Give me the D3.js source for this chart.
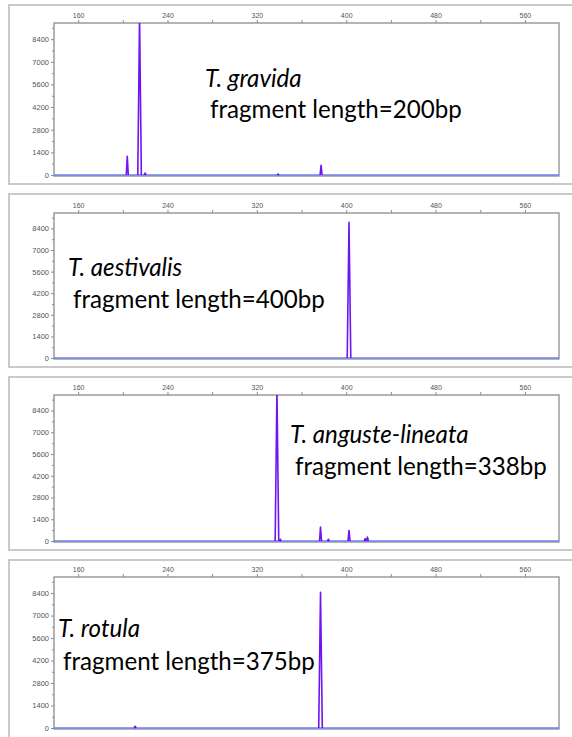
<!DOCTYPE html>
<html>
<head>
<meta charset="utf-8">
<script src="https://cdn.jsdelivr.net/npm/d3@7"></script>
<style>
  body { margin: 0; background: #fff; }
  svg { display: block; }
  .tick text { font-family: 'Liberation Sans', Arial, sans-serif; fill: #555; }
  .label { font-family: Lato, 'Noto Sans', sans-serif; fill: #000; }
</style>
</head>
<body>
<div id="chart"></div>
<script>
'use strict';

// size axis (bp) and signal axis (rfu), same for every panel
const xTicks = [160, 240, 320, 400, 480, 560];
const xMinorTicks = [200, 280, 360, 440, 520];
const yTicks = [0, 1400, 2800, 4200, 5600, 7000, 8400];
const yMinorTicks = [700, 2100, 3500, 4900, 6300, 7700, 9100];
const xDomain = [138.4, 590.5];
const yMax = 9400;

// species names and fragment length captions
const species = ['T. gravida', 'T. aestivalis', 'T. anguste-lineata', 'T. rotula'];
const fragments = ['fragment length=200bp', 'fragment length=400bp',
  'fragment length=338bp', 'fragment length=375bp'];

// peaks: [size, height]
const gravidaPeaks = [[204, 1150], [215, 9800], [220, 120], [339, 60], [377.5, 600]];
const aestivalisPeaks = [[402.5, 8800]];
const angustePeaks = [[338, 9800], [341, 110], [377, 900], [384, 110], [402.5, 680], [417, 150], [419, 250]];
const rotulaPeaks = [[211, 110], [377, 8450]];
const peakSets = [gravidaPeaks, aestivalisPeaks, angustePeaks, rotulaPeaks];

// panel layout in pixels
const panels = [
  { frameTop: 5, frameBottom: 184, top: 23, bottom: 175, nameX: 205, nameY: 87, fragX: 210, fragY: 118 },
  { frameTop: 194, frameBottom: 367, top: 213, bottom: 358, nameX: 68, nameY: 276, fragX: 73, fragY: 308 },
  { frameTop: 377, frameBottom: 550, top: 395, bottom: 541, nameX: 290, nameY: 443, fragX: 295, fragY: 475 },
  { frameTop: 560, frameBottom: 745, top: 577, bottom: 728, nameX: 58, nameY: 637, fragX: 63, fragY: 670 }
];
const plotLeft = 54;
const plotRight = 559;
const fragWidth = 252;

const svg = d3.select('#chart').append('svg')
  .attr('width', 572)
  .attr('height', 737);

const x = d3.scaleLinear().domain(xDomain).range([plotLeft, plotRight]);

function peakPoints(peak) {
  const hw = peak[1] > 5000 ? 1.6 : 0.9;
  return [[peak[0] - hw, 0], [peak[0], peak[1]], [peak[0] + hw, 0]];
}

function drawPanel(p, i) {
  const g = svg.append('g');
  const y = d3.scaleLinear().domain([0, yMax]).range([p.bottom, p.top]);

  // outer frame
  g.append('rect')
    .attr('x', 9).attr('y', p.frameTop)
    .attr('width', 580).attr('height', p.frameBottom - p.frameTop)
    .attr('fill', 'none')
    .attr('stroke', '#c9c9c9')
    .attr('stroke-width', 2);

  // plot box
  g.append('rect')
    .attr('x', plotLeft).attr('y', p.top)
    .attr('width', plotRight - plotLeft).attr('height', p.bottom - p.top + 1)
    .attr('fill', '#fff')
    .attr('stroke', '#8c8c8c')
    .attr('stroke-width', 1.3);

  const xAxis = g.append('g')
    .attr('transform', `translate(0,${p.top})`)
    .call(d3.axisTop(x).tickValues(xTicks).tickSize(3).tickPadding(2));
  g.append('g')
    .attr('transform', `translate(0,${p.top})`)
    .call(d3.axisTop(x).tickValues(xMinorTicks).tickSize(3).tickFormat(''));
  const yAxis = g.append('g')
    .attr('transform', `translate(${plotLeft},0)`)
    .call(d3.axisLeft(y).tickValues(yTicks).tickSize(3).tickPadding(2).tickFormat(d3.format('d')));
  g.append('g')
    .attr('transform', `translate(${plotLeft},0)`)
    .call(d3.axisLeft(y).tickValues(yMinorTicks).tickSize(2).tickFormat(''));

  g.selectAll('.domain').remove();
  g.selectAll('.tick line').attr('stroke', '#8c8c8c');
  xAxis.selectAll('text').attr('font-size', 7);
  yAxis.selectAll('text').attr('font-size', 7.5);

  const clipId = `clip-${i}`;
  g.append('clipPath').attr('id', clipId)
    .append('rect')
    .attr('x', plotLeft).attr('y', p.top)
    .attr('width', plotRight - plotLeft).attr('height', p.bottom - p.top + 2);

  const line = d3.line()
    .x(d => x(d[0]))
    .y(d => y(d[1]));

  const trace = g.append('g').attr('clip-path', `url(#${clipId})`);

  trace.append('path')
    .datum([[xDomain[0], 0], [xDomain[1], 0]])
    .attr('d', line)
    .attr('fill', 'none')
    .attr('stroke', '#6f7ff2')
    .attr('stroke-width', 1.6);

  trace.selectAll('.peak')
    .data(peakSets[i])
    .join('path')
    .attr('class', 'peak')
    .attr('d', d => line(peakPoints(d)))
    .attr('fill', 'none')
    .attr('stroke', '#7014f2')
    .attr('stroke-width', 1.6)
    .attr('stroke-linejoin', 'round');

  // captions, sized so the fragment line spans the same width as the picture
  const frag = g.append('text')
    .attr('class', 'label')
    .attr('x', p.fragX).attr('y', p.fragY)
    .attr('font-size', 24)
    .text(fragments[i]);
  const size = 24 * fragWidth / frag.node().getComputedTextLength();
  frag.attr('font-size', size);

  g.append('text')
    .attr('class', 'label')
    .attr('x', p.nameX).attr('y', p.nameY)
    .attr('font-size', size)
    .attr('font-style', 'italic')
    .text(species[i]);
}

panels.forEach(drawPanel);
</script>
</body>
</html>
